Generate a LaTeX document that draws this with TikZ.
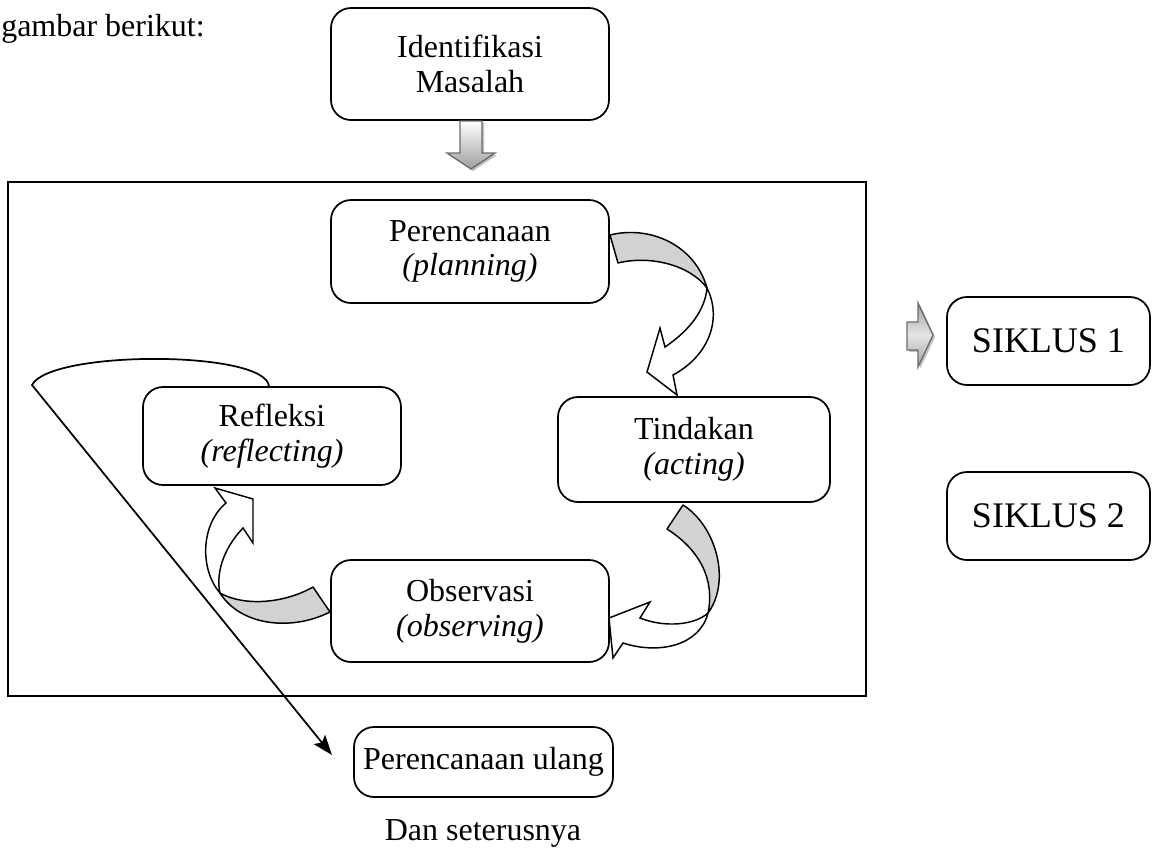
\documentclass[tikz,border=0pt]{standalone}
\usepackage{fontspec}
\setmainfont{Liberation Serif}
\usetikzlibrary{arrows.meta}
\begin{document}
\begin{tikzpicture}[x=0.75pt,y=-0.75pt,
  box/.style={draw,line width=1.3pt,rounded corners=15pt,align=center,inner sep=0pt,fill=white,font=\fontsize{24}{26}\selectfont},
  bigbox/.style={box,font=\fontsize{27}{30}\selectfont},
  frame/.style={draw,line width=1.3pt,inner sep=0pt},
  band/.style={draw,line width=1.1pt,fill=gray!35,line join=round},
  head/.style={draw,line width=1.1pt,fill=white,line join=miter},
  blk/.style={draw=gray!85!black,line width=1pt},
  shade/.style={fill=gray!50,draw=none},
  conn/.style={line width=1.3pt,-{Stealth[length=15pt,width=11pt,inset=3pt]}},
  plain/.style={inner sep=0pt,font=\fontsize{24}{26}\selectfont}
]
\useasboundingbox (0,0) rectangle (1161,851);

% intro text
\node[plain,anchor=base west] (intro) at (1,36) {gambar berikut:};

% frame
\node[frame,minimum width=643.5pt,minimum height=385.5pt] (frame) at (437,439) {};

% boxes
\node[box,minimum width=208.5pt,minimum height=84pt] (idm) at (470,64) {Identifikasi\\Masalah};
\node[box,minimum width=208.5pt,minimum height=77.25pt] (per) at (470,251.5) {Perencanaan\\\textit{(planning)}};
\node[box,minimum width=204pt,minimum height=78.75pt] (tin) at (694,449.5) {Tindakan\\\textit{(acting)}};
\node[box,minimum width=193.5pt,minimum height=73.5pt] (ref) at (272,436) {Refleksi\\\textit{(reflecting)}};
\node[box,minimum width=208.5pt,minimum height=76.5pt] (obs) at (470,611) {Observasi\\\textit{(observing)}};
\node[bigbox,minimum width=152.25pt,minimum height=66pt] (s1) at (1048.5,341) {SIKLUS 1};
\node[bigbox,minimum width=152.25pt,minimum height=66pt] (s2) at (1048.5,516) {SIKLUS 2};
\node[box,minimum width=194.25pt,minimum height=52.5pt] (pu) at (483.5,762) {Perencanaan ulang};
\node[plain,anchor=base] (dan) at (483,840) {Dan seterusnya};

% down block arrow (Identifikasi -> frame)
\fill[shade] (462,123) -- (484,123) -- (484,155) -- (497,155) -- (473,171) -- (449,155) -- (462,155) -- cycle;
\path[blk,top color=white,bottom color=gray!75] (460,121) -- (482,121) -- (482,153) -- (495,153) -- (471,169) -- (447,153) -- (460,153) -- cycle;

% right block arrow (frame -> SIKLUS 1)
\fill[shade] (909,324) -- (920,324) -- (920,305) -- (935,337) -- (920,369) -- (920,352) -- (909,352) -- cycle;
\path[blk,top color=gray!75,bottom color=gray!75,middle color=gray!20] (907,322) -- (918,322) -- (918,303) -- (933,335) -- (918,367) -- (918,350) -- (907,350) -- cycle;

% curved arrow 1: Perencanaan -> Tindakan
\coordinate (x1) at (707,288);
\path[band] (610,235) .. controls (650,225) and (695,245) .. (x1)
  .. controls (690,265) and (650,255) .. (618,263) -- cycle;
\path[head] (x1) .. controls (722,318) and (710,355) .. (673,375)
  -- (677,395) -- (647,372) -- (660,328) -- (665,347)
  .. controls (690,330) and (705,310) .. (x1) -- cycle;

% curved arrow 2: Tindakan -> Observasi
\coordinate (x2) at (708,613);
\path[band] (683,505) .. controls (715,525) and (732,580) .. (x2)
  .. controls (715,580) and (700,550) .. (667,529) -- cycle;
\path[head] (x2) .. controls (700,645) and (660,655) .. (623,643)
  -- (613,658) -- (609,618) -- (650,602) -- (640,618)
  .. controls (665,628) and (695,625) .. (x2) -- cycle;

% curved arrow 3: Observasi -> Refleksi
\coordinate (x3) at (220,593);
\path[band] (x3) .. controls (245,607) and (285,603) .. (313,587)
  -- (330,612) .. controls (290,632) and (240,625) .. (x3) -- cycle;
\path[head] (x3) .. controls (200,570) and (200,525) .. (226,503)
  -- (215,488) -- (253,499) -- (253,543) -- (243,528)
  .. controls (222,550) and (216,575) .. (x3) -- cycle;

% loop from Refleksi to Perencanaan ulang
\coordinate (lp) at (32,385);
\coordinate (pe) at (332,755);
\draw[conn,line join=miter] ([xshift=-2.25pt]ref.north) .. controls (265,350) and (50,350) .. (lp) -- (pe);
\end{tikzpicture}
\end{document}
